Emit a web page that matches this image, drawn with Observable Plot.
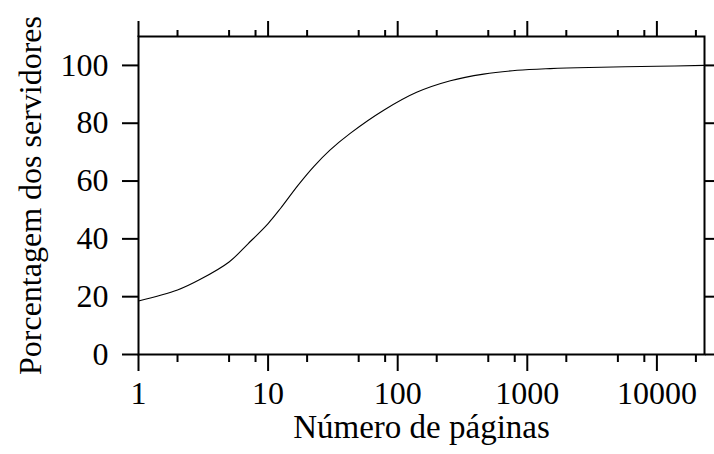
<!DOCTYPE html>
<html>
<head>
<meta charset="utf-8">
<script src="https://cdn.jsdelivr.net/npm/d3@7"></script>
<script src="https://cdn.jsdelivr.net/npm/@observablehq/plot@0.6"></script>
<style>
  html, body { margin: 0; padding: 0; background: #fff; }
  #chart svg { display: block; }
</style>
</head>
<body>
<div id="chart"></div>
<script>
const pages = [1, 2, 3, 5, 7, 10, 12.5, 17, 22.5, 30, 43, 78, 140, 255, 460, 835, 1500, 3000, 10000, 23300];
const percent = [18.5, 22.3, 26, 32, 38.3, 45.3, 50.6, 58.5, 65.0, 70.7, 76.5, 84.5, 90.7, 94.7, 97, 98.3, 98.9, 99.3, 99.7, 100];
const majorTicksX = [1, 10, 100, 1000, 10000];
const minorTicksX = [2, 5, 8, 20, 50, 80, 200, 500, 800, 2000, 5000, 8000, 20000];
const ticksY = [0, 20, 40, 60, 80, 100];
const xLabel = "Número de páginas";
const yLabel = "Porcentagem dos servidores";

const data = pages.map((p, i) => ({pages: p, percent: percent[i]}));

const chart = Plot.plot({
  width: 714,
  height: 454,
  marginLeft: 138,
  marginRight: 10,
  marginTop: 36,
  marginBottom: 100,
  style: {fontFamily: "'Liberation Serif', serif", fontSize: "32px", color: "#000", background: "#fff", overflow: "visible"},
  x: {type: "log", domain: [1, 23300]},
  y: {domain: [0, 110]},
  marks: [
    Plot.line(data, {x: "pages", y: "percent", curve: "catmull-rom", stroke: "#000", strokeWidth: 1.1}),
    Plot.frame({stroke: "#000", strokeWidth: 2}),
    Plot.axisX({anchor: "bottom", ticks: majorTicksX, tickSize: 17, tickPadding: 10, tickFormat: d => String(d), strokeWidth: 2, fontSize: 32, label: null}),
    Plot.axisX({anchor: "bottom", ticks: minorTicksX, tickSize: 8, strokeWidth: 2, text: null, label: null}),
    Plot.axisX({anchor: "top", ticks: majorTicksX, tickSize: 16, strokeWidth: 2, text: null, label: null}),
    Plot.axisX({anchor: "top", ticks: minorTicksX, tickSize: 7, strokeWidth: 2, text: null, label: null}),
    Plot.axisY({anchor: "left", ticks: ticksY, tickSize: 16, tickPadding: 14, strokeWidth: 2, fontSize: 32, label: null}),
    Plot.axisY({anchor: "right", ticks: ticksY, tickSize: 10, strokeWidth: 2, text: null, label: null}),
    Plot.text([xLabel], {frameAnchor: "bottom", dy: 83, textAnchor: "middle", text: d => d, fontSize: 33, fill: "#000"}),
    Plot.text([yLabel], {frameAnchor: "left", dx: -108, dy: 0, rotate: -90, textAnchor: "middle", text: d => d, fontSize: 32, fill: "#000"})
  ]
});
document.getElementById("chart").appendChild(chart);
</script>
</body>
</html>
